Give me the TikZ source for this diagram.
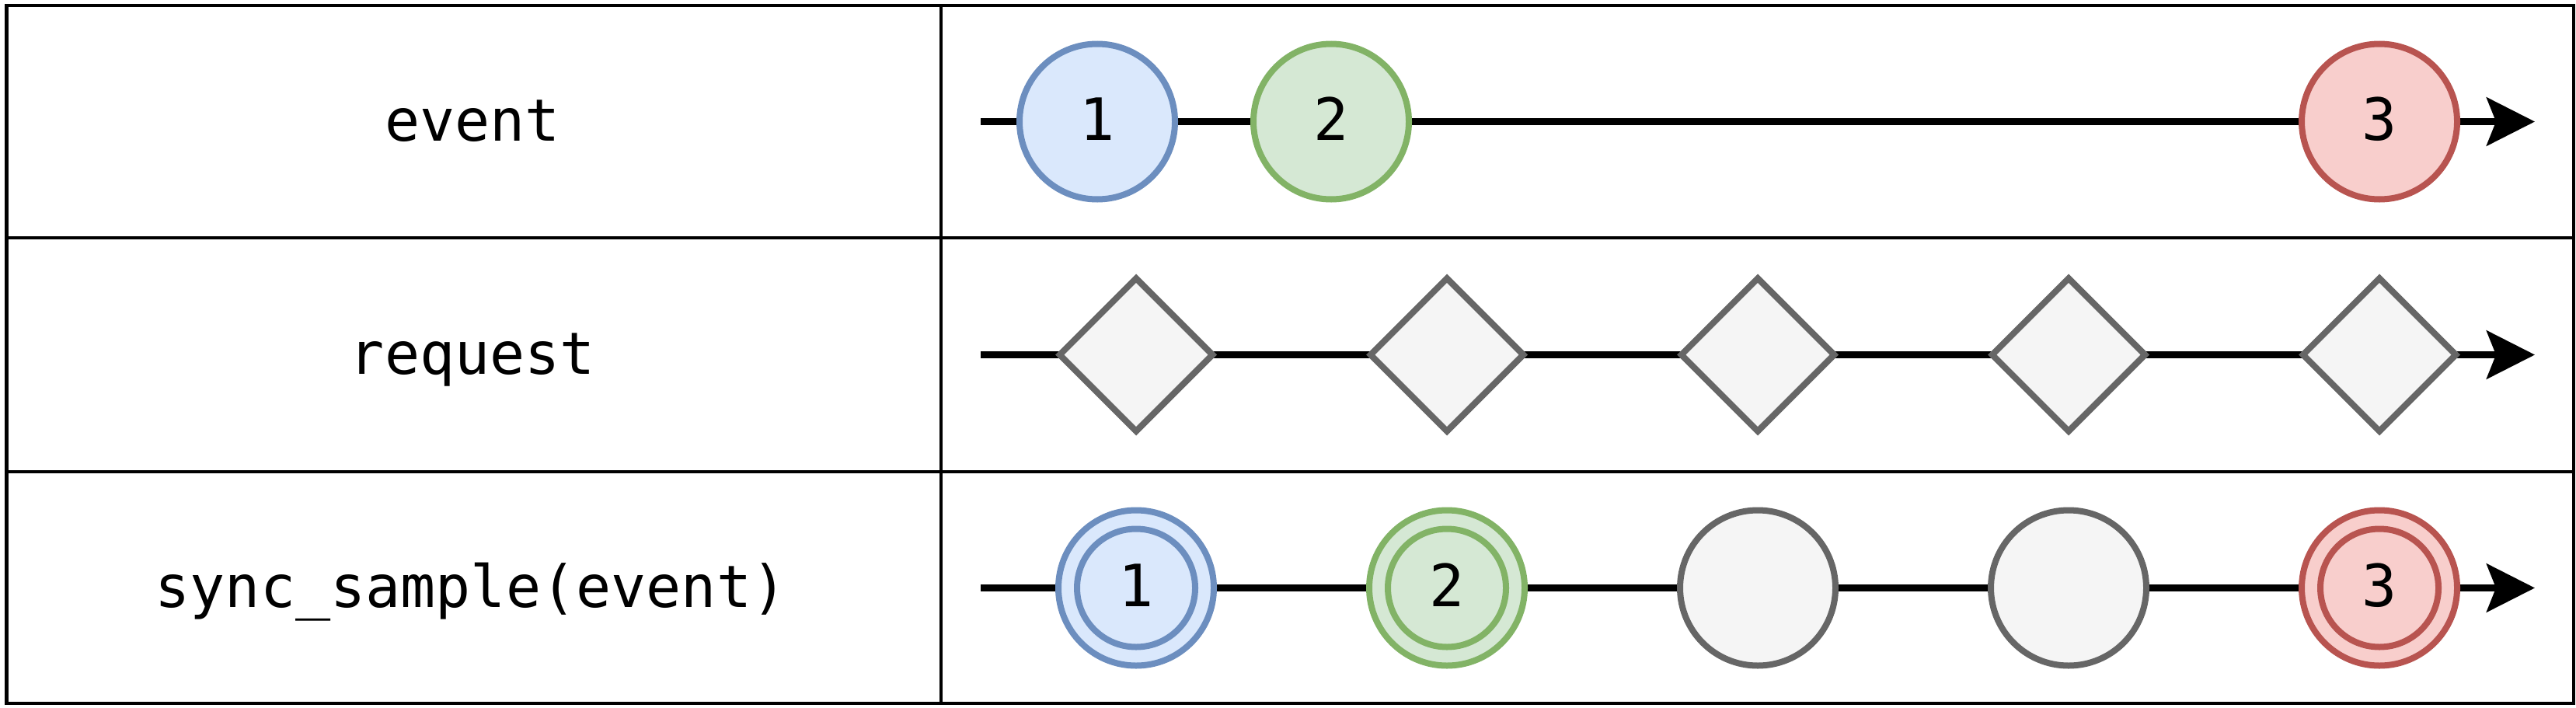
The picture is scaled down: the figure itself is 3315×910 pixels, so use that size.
\documentclass[tikz,border=0pt]{standalone}
\usepackage{fontspec}
\setmainfont{DejaVu Sans Mono}
\setmonofont{DejaVu Sans Mono}
\usetikzlibrary{shapes.geometric,arrows.meta}
\definecolor{bluefill}{HTML}{DAE8FC}
\definecolor{blueline}{HTML}{6C8EBF}
\definecolor{greenfill}{HTML}{D5E8D4}
\definecolor{greenline}{HTML}{82B366}
\definecolor{redfill}{HTML}{F8CECC}
\definecolor{redline}{HTML}{B85450}
\definecolor{grayfill}{HTML}{F5F5F5}
\definecolor{grayline}{HTML}{666666}
\tikzset{
  gridline/.style={line width=1.1pt, draw=black},
  rowlabel/.style={font=\fontsize{18.75pt}{22pt}\selectfont, text height=12.5pt, text depth=0pt, inner sep=0pt},
  timeline/.style={line width=2.25pt, draw=black, -{Stealth[length=15.5pt,width=15.5pt,inset=3pt]}},
  marble/.style={circle, minimum size=50pt, inner sep=0pt, line width=2pt,
     font=\fontsize{18.75pt}{22pt}\selectfont, text height=12pt, text depth=0pt},
  innermarble/.style={marble, minimum size=38pt},
  req/.style={diamond, aspect=1, minimum size=50pt, inner sep=0pt, line width=2pt, draw=grayline, fill=grayfill},
  bluem/.style={draw=blueline, fill=bluefill},
  greenm/.style={draw=greenline, fill=greenfill},
  redm/.style={draw=redline, fill=redfill},
  graym/.style={draw=grayline, fill=grayfill},
}
\begin{document}
\begin{tikzpicture}[x=0.25pt,y=-0.25pt]
\useasboundingbox (0,0) rectangle (3315,910);
% table
\draw[gridline] (8.5,7) rectangle (3312,905);
\draw[gridline] (8.5,306) -- (3312,306);
\draw[gridline] (8.5,607) -- (3312,607);
\draw[gridline] (1211,7) -- (1211,905);
% labels
\node[rowlabel] (l1) at (608,156.5) {event};
\node[rowlabel] (l2) at (608,456.5) {request};
\node[rowlabel] (l3) at (606,756.5) {sync\_sample(event)};
% timelines
\coordinate (s1) at (1262,156.5);
\coordinate (e1) at (3262,156.5);
\coordinate (s2) at (1262,456.5);
\coordinate (e2) at (3262,456.5);
\coordinate (s3) at (1262,756.5);
\coordinate (e3) at (3262,756.5);
\draw[timeline] (s1) -- (e1);
\draw[timeline] (s2) -- (e2);
\draw[timeline] (s3) -- (e3);
% row 1
\node[marble,bluem] (a1) at (1412,156.5) {1};
\node[marble,greenm] (a2) at (1713,156.5) {2};
\node[marble,redm] (a3) at (3062,156.5) {3};
% row 2
\node[req] (r1) at (1462,456.5) {};
\node[req] (r2) at (1862,456.5) {};
\node[req] (r3) at (2262,456.5) {};
\node[req] (r4) at (2662,456.5) {};
\node[req] (r5) at (3062,456.5) {};
% row 3
\node[marble,bluem] (o1) at (1462,756.5) {};
\node[innermarble,bluem] (i1) at (1462,756.5) {1};
\node[marble,greenm] (o2) at (1862,756.5) {};
\node[innermarble,greenm] (i2) at (1862,756.5) {2};
\node[marble,graym] (o3) at (2262,756.5) {};
\node[marble,graym] (o4) at (2662,756.5) {};
\node[marble,redm] (o5) at (3062,756.5) {};
\node[innermarble,redm] (i5) at (3062,756.5) {3};
\end{tikzpicture}
\end{document}
